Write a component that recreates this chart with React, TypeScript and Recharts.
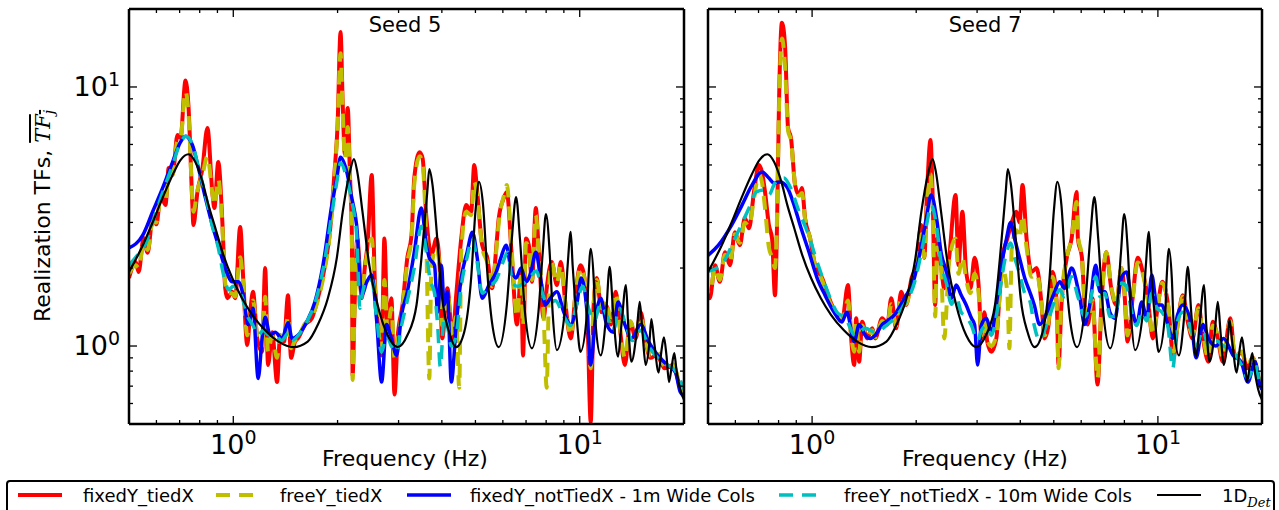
import React from 'react';
import { LineChart, Line, XAxis, YAxis } from 'recharts';

type P = [number, number];

// ---------- tick values ----------
const xTickValues = [0.5, 0.6, 0.7, 0.8, 0.9, 1, 2, 3, 4, 5, 6, 7, 8, 9, 10, 20];
const yTickValues = [0.5, 0.6, 0.7, 0.8, 0.9, 1, 2, 3, 4, 5, 6, 7, 8, 9, 10, 20];
const freqDomain: [number, number] = [0.5, 20];
const tfDomain: [number, number] = [0.5, 20];
const panelTitles = ['Seed 5', 'Seed 7'];
const xAxisLabel = 'Frequency (Hz)';
const seriesNames = ['fixedY_tiedX', 'freeY_tiedX', 'fixedY_notTiedX - 1m Wide Cols', 'freeY_notTiedX - 10m Wide Cols', '1D'];

// ---------- Seed 5 ----------
const fixedTiedS5: P[] = [[0.50,1.83],[0.523,2.11],[0.533,1.93],[0.551,2.61],[0.566,2.29],[0.585,3.12],[0.60,2.95],[0.617,3.83],[0.637,3.5],[0.651,4.87],[0.668,4.57],[0.690,6.53],[0.704,6.35],[0.728,10.6],[0.742,8.52],[0.762,3.5],[0.767,2.93],[0.788,3.93],[0.815,4.87],[0.842,6.95],[0.870,3.93],[0.882,3.41],[0.905,5.13],[0.930,3.01],[0.948,1.67],[0.961,1.53],[0.993,1.62],[1.013,1.53],[1.047,2.88],[1.068,1.83],[1.097,1.01],[1.119,1.35],[1.14,1.62],[1.172,1.07],[1.211,0.95],[1.236,2.0],[1.26,0.845],[1.295,1.13],[1.338,0.726],[1.365,1.10],[1.401,1.04],[1.439,1.57],[1.468,0.9],[1.507,1.04],[1.537,1.07],[1.61,1.21],[1.686,1.28],[1.755,1.53],[1.84,2.05],[1.90,2.75],[1.96,4.7],[2.0,7.1],[2.04,16.3],[2.07,8.5],[2.10,5.5],[2.14,8.3],[2.17,4.7],[2.20,2.6],[2.21,0.77],[2.24,1.44],[2.28,2.6],[2.35,1.53],[2.40,2.05],[2.44,2.45],[2.51,4.57],[2.56,1.83],[2.61,1.24],[2.68,0.92],[2.73,2.6],[2.79,1.13],[2.86,1.53],[2.92,0.65],[2.98,1.07],[3.08,1.44],[3.18,2.19],[3.27,2.68],[3.33,4.45],[3.45,5.6],[3.52,5.3],[3.61,3.12],[3.73,2.25],[3.86,2.6],[3.94,2.05],[4.01,1.07],[4.15,1.67],[4.29,1.07],[4.40,1.57],[4.55,2.6],[4.70,3.5],[4.86,3.3],[4.96,5.0],[5.06,3.93],[5.23,2.45],[5.41,2.19],[5.58,1.67],[5.77,2.6],[5.84,3.12],[6.04,3.73],[6.16,3.93],[6.37,2.19],[6.59,1.21],[6.77,1.93],[6.86,0.92],[7.0,2.6],[7.13,2.45],[7.28,1.77],[7.47,3.41],[7.6,2.45],[7.87,1.28],[8.03,1.67],[8.3,2.11],[8.59,1.72],[8.82,2.11],[9.1,1.44],[9.42,1.07],[9.74,1.62],[10.05,2.05],[10.25,1.93],[10.5,1.44],[10.76,0.51],[10.97,1.44],[11.2,1.83],[11.56,1.35],[11.9,1.44],[12.3,1.21],[12.7,1.62],[13.1,1.13],[13.5,0.845],[14.0,1.24],[14.5,1.07],[15.0,1.35],[15.5,1.04],[16.0,0.9],[16.7,0.92],[17.6,0.82],[18.6,0.845],[19.5,0.69],[20,0.65]];

const freeTiedS5: P[] = [[0.50,1.9],[0.523,2.05],[0.533,2.0],[0.551,2.5],[0.566,2.35],[0.585,3.0],[0.60,3.0],[0.617,3.7],[0.637,3.6],[0.651,4.6],[0.668,4.6],[0.690,6.2],[0.704,6.3],[0.728,9.6],[0.742,8.0],[0.762,3.7],[0.767,3.3],[0.788,4.0],[0.815,4.6],[0.842,5.4],[0.870,3.9],[0.882,3.5],[0.905,4.4],[0.930,2.9],[0.948,1.75],[0.961,1.6],[0.993,1.6],[1.013,1.55],[1.047,2.2],[1.068,1.75],[1.097,1.1],[1.119,1.3],[1.14,1.5],[1.172,1.1],[1.211,1.0],[1.236,1.55],[1.26,0.95],[1.295,1.1],[1.338,0.9],[1.365,1.1],[1.401,1.05],[1.439,1.3],[1.468,0.98],[1.507,1.05],[1.537,1.08],[1.61,1.22],[1.686,1.3],[1.755,1.5],[1.84,2.0],[1.90,2.7],[1.96,4.5],[2.0,7.0],[2.04,13.5],[2.07,8.0],[2.10,5.3],[2.14,7.0],[2.17,4.5],[2.20,2.5],[2.21,0.74],[2.24,1.4],[2.28,2.5],[2.35,1.55],[2.40,2.0],[2.44,2.3],[2.51,2.6],[2.56,1.7],[2.61,1.25],[2.68,0.95],[2.73,1.8],[2.79,1.15],[2.86,1.4],[2.92,0.9],[2.98,1.05],[3.08,1.4],[3.18,2.1],[3.27,2.6],[3.33,4.2],[3.45,5.4],[3.52,5.0],[3.61,2.4],[3.68,0.75],[3.73,2.0],[3.86,2.4],[3.94,2.0],[4.01,1.2],[4.15,1.6],[4.29,1.1],[4.40,1.3],[4.49,0.69],[4.55,2.3],[4.70,3.3],[4.86,3.2],[4.96,4.3],[5.06,3.8],[5.23,2.4],[5.41,2.1],[5.58,1.7],[5.77,2.5],[5.84,3.0],[6.04,3.8],[6.16,4.18],[6.37,2.3],[6.59,1.3],[6.77,1.9],[6.86,1.2],[7.0,2.5],[7.13,2.4],[7.28,1.8],[7.47,3.2],[7.6,2.4],[7.87,1.3],[8.03,0.69],[8.15,1.6],[8.3,2.1],[8.59,1.75],[8.82,2.05],[9.1,1.45],[9.42,1.1],[9.74,1.6],[10.05,2.0],[10.25,1.9],[10.5,1.45],[10.76,0.82],[10.97,1.45],[11.2,1.8],[11.56,1.4],[11.9,1.5],[12.3,1.25],[12.7,1.6],[13.1,1.15],[13.5,0.9],[14.0,1.25],[14.5,1.1],[15.0,1.3],[15.5,1.05],[16.0,0.92],[16.7,0.95],[17.6,0.84],[18.6,0.85],[19.5,0.7],[20,0.66]];

const fixedNotTiedS5: P[] = [[0.50,2.39],[0.548,2.68],[0.585,3.3],[0.625,4.07],[0.668,5.13],[0.704,6.13],[0.728,6.45],[0.762,5.97],[0.793,4.87],[0.831,3.73],[0.870,2.93],[0.905,2.45],[0.948,2.0],[0.993,1.77],[1.033,1.77],[1.068,1.57],[1.104,1.21],[1.14,1.4],[1.18,0.75],[1.211,1.07],[1.236,1.29],[1.277,1.1],[1.32,1.13],[1.383,1.07],[1.439,1.23],[1.478,1.07],[1.537,1.1],[1.63,1.24],[1.72,1.48],[1.815,2.05],[1.925,3.5],[1.99,4.45],[2.04,5.35],[2.126,4.7],[2.198,3.73],[2.27,2.93],[2.35,1.57],[2.43,1.77],[2.51,1.88],[2.59,1.28],[2.68,0.726],[2.77,1.21],[2.86,1.07],[2.96,0.92],[3.06,1.32],[3.18,1.62],[3.33,2.3],[3.49,3.41],[3.61,2.45],[3.68,2.19],[3.81,2.05],[3.89,1.35],[3.99,2.05],[4.06,1.44],[4.15,1.62],[4.26,0.726],[4.40,1.21],[4.55,1.83],[4.73,2.3],[4.90,2.75],[5.06,2.19],[5.23,1.53],[5.47,1.72],[5.74,1.93],[5.92,2.19],[6.13,2.45],[6.33,2.0],[6.55,1.83],[6.77,2.0],[7.0,1.77],[7.23,1.93],[7.47,2.3],[7.71,1.83],[7.95,1.44],[8.23,1.53],[8.59,1.62],[9.0,1.35],[9.42,1.21],[9.83,1.48],[10.1,1.83],[10.5,1.35],[10.76,0.845],[11.1,1.28],[11.5,1.53],[11.9,1.24],[12.5,1.13],[12.9,1.48],[13.5,1.21],[14.1,1.07],[15.0,1.21],[15.8,1.04],[16.8,0.92],[17.9,0.845],[18.9,0.79],[19.5,0.665],[20,0.64]];

const freeNotTiedS5: P[] = [[0.50,2.05],[0.53,2.25],[0.56,2.5],[0.585,3.0],[0.625,3.9],[0.668,5.0],[0.704,6.1],[0.73,6.45],[0.762,6.0],[0.793,4.9],[0.836,3.7],[0.870,2.9],[0.905,2.4],[0.94,1.85],[0.97,1.65],[1.0,1.7],[1.05,1.6],[1.10,1.3],[1.14,1.2],[1.18,1.1],[1.22,1.15],[1.27,1.1],[1.32,1.1],[1.38,1.05],[1.44,1.12],[1.48,1.05],[1.54,1.1],[1.63,1.24],[1.73,1.5],[1.82,2.0],[1.93,3.3],[1.99,4.3],[2.04,5.1],[2.12,4.5],[2.20,3.6],[2.27,2.7],[2.32,1.4],[2.36,1.6],[2.43,1.8],[2.51,1.8],[2.59,1.3],[2.68,0.95],[2.77,1.1],[2.86,1.0],[2.96,0.95],[3.06,1.2],[3.18,1.5],[3.33,2.0],[3.49,2.9],[3.61,2.3],[3.70,1.8],[3.81,1.6],[3.89,1.2],[3.96,0.83],[4.06,1.3],[4.15,1.2],[4.26,1.0],[4.40,1.1],[4.55,1.7],[4.73,2.2],[4.90,2.6],[5.06,2.1],[5.23,1.6],[5.49,1.7],[5.74,1.8],[6.0,2.1],[6.2,2.3],[6.4,1.75],[6.6,1.7],[6.9,1.75],[7.2,1.85],[7.5,1.95],[7.8,1.6],[8.1,1.45],[8.5,1.5],[9.0,1.3],[9.4,1.2],[9.8,1.45],[10.2,1.7],[10.6,1.4],[11.0,1.25],[11.5,1.45],[12.0,1.3],[12.5,1.15],[13.0,1.4],[13.6,1.2],[14.2,1.05],[15.0,1.15],[15.8,1.0],[16.8,0.9],[17.8,0.85],[18.9,0.8],[20,0.68]];

// ---------- 1D deterministic (same in both panels) ----------
const oneDDet: P[] = [[0.50,1.93],[0.548,2.45],[0.585,3.0],[0.625,3.73],[0.668,4.57],[0.704,5.22],[0.742,5.5],[0.777,5.13],[0.815,4.3],[0.848,3.5],[0.888,2.85],[0.936,2.25],[0.993,1.83],[1.06,1.53],[1.134,1.32],[1.236,1.15],[1.35,1.04],[1.49,0.99],[1.64,1.04],[1.755,1.21],[1.875,1.53],[1.99,2.19],[2.07,3.3],[2.17,4.7],[2.23,5.27],[2.28,4.7],[2.36,3.3],[2.47,2.05],[2.61,1.44],[2.79,1.1],[2.98,0.99],[3.18,1.1],[3.38,1.44],[3.52,2.45],[3.63,3.93],[3.68,4.82],[3.76,4.18],[3.88,2.6],[4.01,1.53],[4.2,1.13],[4.40,0.99],[4.64,1.13],[4.86,1.83],[5.0,3.3],[5.12,4.3],[5.26,3.5],[5.41,1.93],[5.58,1.24],[5.84,0.99],[6.16,1.44],[6.37,2.6],[6.55,3.76],[6.72,2.6],[6.95,1.35],[7.28,0.98],[7.6,1.35],[7.82,2.3],[7.99,3.23],[8.19,2.3],[8.36,1.32],[8.59,0.965],[9.05,1.35],[9.23,2.05],[9.42,2.76],[9.54,2.05],[9.8,1.28],[10.05,0.95],[10.5,1.35],[10.6,1.83],[10.76,2.37],[10.97,1.83],[11.1,1.24],[11.5,0.92],[11.9,1.28],[12.2,2.02],[12.5,1.32],[12.9,0.91],[13.2,1.21],[13.6,1.72],[13.8,1.21],[14.1,0.87],[14.6,1.13],[14.9,1.48],[15.2,1.10],[15.5,0.845],[15.9,1.04],[16.1,1.27],[16.4,1.04],[16.9,0.79],[17.2,0.95],[17.5,1.08],[17.8,0.92],[18.1,0.726],[18.4,0.82],[18.75,0.94],[19.0,0.82],[19.5,0.68],[20,0.62]];

// ---------- Seed 7 ----------
const fixedTiedS7: P[] = [[0.49,1.83],[0.506,1.53],[0.524,2.05],[0.541,1.77],[0.560,2.3],[0.579,2.05],[0.598,2.75],[0.618,2.45],[0.639,3.12],[0.657,2.85],[0.679,3.93],[0.702,5.0],[0.716,4.7],[0.731,3.93],[0.750,2.93],[0.766,2.6],[0.781,1.57],[0.792,3.0],[0.802,8.5],[0.818,17.7],[0.835,14.5],[0.852,6.95],[0.869,6.35],[0.893,4.18],[0.917,3.83],[0.935,4.07],[0.954,3.12],[0.987,2.6],[1.02,2.05],[1.069,1.83],[1.12,1.53],[1.166,1.35],[1.22,1.24],[1.27,1.72],[1.297,1.07],[1.324,0.845],[1.341,1.28],[1.368,0.87],[1.396,1.24],[1.443,1.07],[1.493,1.17],[1.523,1.07],[1.594,1.28],[1.65,1.21],[1.694,1.53],[1.75,1.17],[1.81,1.62],[1.87,1.44],[1.94,1.83],[2.0,2.05],[2.07,2.93],[2.11,2.19],[2.15,3.93],[2.20,6.24],[2.23,3.93],[2.27,1.44],[2.30,2.6],[2.36,2.05],[2.41,1.67],[2.49,2.19],[2.60,3.83],[2.65,2.05],[2.72,3.3],[2.79,1.93],[2.87,1.67],[2.95,2.19],[3.03,1.72],[3.09,1.07],[3.15,1.35],[3.21,1.04],[3.30,0.95],[3.41,1.07],[3.48,1.53],[3.55,2.19],[3.67,2.6],[3.78,3.0],[3.9,3.3],[3.98,3.0],[4.06,4.18],[4.17,2.6],[4.31,1.93],[4.46,2.0],[4.61,1.44],[4.70,1.07],[4.83,1.21],[4.96,1.93],[5.10,1.44],[5.16,0.845],[5.26,1.44],[5.45,2.19],[5.63,2.6],[5.82,3.93],[5.87,2.6],[6.03,2.19],[6.14,1.44],[6.26,1.21],[6.47,1.53],[6.69,0.71],[6.88,1.53],[7.09,2.3],[7.33,1.67],[7.58,1.44],[7.84,2.0],[8.0,1.62],[8.17,1.04],[8.45,1.53],[8.74,2.19],[9.04,1.93],[9.35,1.53],[9.67,1.07],[10.0,1.44],[10.3,1.77],[10.7,1.44],[11.1,0.9],[11.4,1.21],[11.8,1.57],[12.2,1.24],[12.6,1.07],[13.1,1.44],[13.5,1.07],[14.0,0.87],[14.4,1.24],[14.9,1.07],[15.4,0.87],[16.2,1.28],[16.7,0.9],[17.5,0.95],[18.1,0.82],[18.8,0.9],[19.7,0.726],[20,0.7]];

const freeTiedS7: P[] = [[0.49,1.8],[0.506,1.6],[0.524,2.0],[0.541,1.8],[0.560,2.25],[0.579,2.1],[0.598,2.7],[0.618,2.5],[0.639,3.0],[0.657,2.9],[0.679,3.7],[0.702,4.6],[0.716,4.3],[0.731,3.4],[0.750,2.4],[0.766,2.2],[0.781,2.0],[0.792,3.2],[0.802,8.0],[0.818,15.4],[0.835,12.0],[0.852,6.8],[0.869,6.2],[0.893,4.2],[0.917,3.8],[0.935,3.9],[0.954,3.1],[0.987,2.6],[1.02,2.05],[1.069,1.8],[1.12,1.5],[1.166,1.35],[1.22,1.25],[1.27,1.5],[1.297,1.1],[1.324,0.95],[1.341,1.25],[1.368,0.95],[1.396,1.2],[1.443,1.08],[1.493,1.15],[1.523,1.08],[1.594,1.25],[1.65,1.2],[1.694,1.45],[1.75,1.2],[1.81,1.55],[1.87,1.45],[1.94,1.75],[2.0,2.0],[2.07,2.7],[2.11,2.2],[2.15,3.5],[2.20,4.6],[2.23,3.5],[2.27,1.3],[2.30,2.4],[2.36,2.0],[2.41,1.07],[2.49,2.1],[2.60,2.6],[2.65,1.9],[2.72,2.2],[2.79,1.8],[2.87,1.6],[2.95,1.9],[3.03,1.6],[3.09,1.1],[3.15,1.3],[3.21,1.05],[3.30,1.0],[3.41,1.1],[3.48,1.5],[3.55,2.0],[3.67,1.6],[3.72,0.98],[3.78,2.4],[3.9,2.8],[3.98,2.6],[4.06,3.2],[4.17,2.4],[4.31,1.85],[4.46,1.9],[4.61,1.45],[4.70,1.1],[4.83,1.25],[4.96,1.85],[5.10,1.4],[5.16,0.82],[5.26,1.5],[5.45,2.2],[5.63,2.6],[5.82,3.6],[5.87,2.7],[6.03,2.2],[6.14,1.5],[6.26,1.25],[6.47,1.5],[6.69,0.75],[6.88,1.5],[7.09,2.3],[7.33,1.7],[7.58,1.45],[7.84,2.0],[8.0,1.65],[8.17,1.1],[8.45,1.5],[8.74,2.1],[9.04,1.9],[9.35,1.5],[9.67,1.1],[10.0,1.45],[10.3,1.75],[10.7,1.45],[11.1,0.95],[11.4,1.2],[11.8,1.55],[12.2,1.25],[12.6,1.1],[13.1,1.4],[13.5,1.1],[14.0,0.9],[14.4,1.2],[14.9,1.1],[15.4,0.9],[16.2,1.25],[16.7,0.92],[17.5,0.95],[18.1,0.84],[18.8,0.9],[19.7,0.74],[20,0.72]];

const fixedNotTiedS7: P[] = [[0.49,2.19],[0.536,2.45],[0.585,2.93],[0.627,3.5],[0.670,4.18],[0.716,4.7],[0.750,4.45],[0.776,4.26],[0.808,4.3],[0.846,4.11],[0.887,3.5],[0.923,2.93],[0.98,2.3],[1.034,1.83],[1.09,1.57],[1.158,1.35],[1.22,1.24],[1.26,1.35],[1.324,1.04],[1.368,1.21],[1.425,1.1],[1.473,1.07],[1.523,1.1],[1.594,1.21],[1.65,1.25],[1.73,1.32],[1.85,1.53],[1.976,1.83],[2.07,2.45],[2.14,3.12],[2.21,3.83],[2.29,3.12],[2.36,2.3],[2.445,1.93],[2.53,1.53],[2.61,1.72],[2.70,1.57],[2.79,1.44],[2.89,1.28],[2.95,1.21],[3.01,0.845],[3.09,1.21],[3.19,1.28],[3.30,1.13],[3.41,1.44],[3.53,2.05],[3.65,2.6],[3.75,3.0],[3.85,2.6],[3.98,2.19],[4.12,1.83],[4.26,1.62],[4.39,1.44],[4.55,1.21],[4.70,1.28],[4.86,1.44],[5.03,1.62],[5.2,1.77],[5.37,1.67],[5.63,2.0],[5.87,1.67],[5.95,1.53],[6.14,1.21],[6.35,1.44],[6.61,2.05],[6.8,1.62],[7.03,1.62],[7.26,1.35],[7.51,1.28],[7.84,1.83],[8.12,1.93],[8.4,1.44],[8.68,1.21],[8.98,1.48],[9.29,1.28],[9.6,1.88],[9.93,1.44],[10.27,1.44],[10.68,1.21],[11.04,1.07],[11.4,1.32],[11.8,1.44],[12.5,1.21],[12.9,0.9],[13.5,1.21],[14.0,1.07],[14.7,1.0],[15.5,1.07],[16.5,0.92],[17.4,0.87],[18.2,0.726],[19.1,0.87],[19.7,0.71],[20,0.68]];

const freeNotTiedS7: P[] = [[0.49,1.93],[0.545,2.05],[0.598,2.6],[0.657,3.41],[0.69,3.93],[0.726,4.0],[0.750,3.83],[0.781,4.26],[0.829,4.45],[0.864,4.11],[0.917,3.3],[0.97,2.75],[1.034,2.11],[1.10,1.67],[1.18,1.35],[1.25,1.28],[1.33,1.1],[1.425,1.17],[1.523,1.13],[1.65,1.21],[1.75,1.3],[1.85,1.45],[1.976,1.75],[2.07,2.3],[2.14,2.9],[2.21,3.5],[2.29,2.9],[2.36,2.1],[2.445,1.75],[2.53,1.45],[2.61,1.55],[2.70,1.35],[2.79,1.3],[2.89,1.2],[3.01,1.05],[3.09,1.15],[3.19,1.2],[3.30,1.1],[3.41,1.3],[3.53,1.8],[3.65,2.3],[3.75,2.5],[3.85,2.2],[3.98,1.9],[4.12,1.6],[4.26,1.5],[4.39,1.2],[4.55,1.05],[4.70,1.15],[4.86,1.3],[5.03,1.5],[5.2,1.65],[5.37,1.55],[5.63,1.85],[5.87,1.55],[6.14,1.3],[6.35,1.45],[6.61,1.85],[6.8,1.55],[7.03,1.6],[7.26,1.3],[7.51,1.3],[7.84,1.75],[8.12,1.7],[8.4,1.35],[8.68,1.2],[8.98,1.35],[9.29,1.25],[9.6,1.6],[9.93,1.4],[10.27,1.35],[10.68,1.2],[11.04,0.82],[11.4,1.25],[11.8,1.35],[12.5,1.15],[12.9,1.0],[13.5,1.15],[14.0,1.0],[14.7,1.05],[15.5,1.0],[16.5,0.95],[17.4,0.85],[18.2,0.75],[19.1,0.85],[19.7,0.72],[20,0.7]];

// ---------- styling ----------
const FONT = '"DejaVu Sans", sans-serif';
const STYLES = [
  { color: '#ff0000', width: 4, dash: undefined as string | undefined },
  { color: '#bfbf00', width: 4, dash: '14 9' },
  { color: '#0000ff', width: 3.5, dash: undefined },
  { color: '#00bfbf', width: 3.5, dash: '14 9' },
  { color: '#000000', width: 2.2, dash: undefined },
];

const toPts = (a: P[]) => a.map(([f, v]) => ({ f, v }));

const MAJOR = 8;
const MINOR = 4;

const supOf = (v: number) => (v === 1 ? '0' : v === 10 ? '1' : null);

function makeTick(side: 'bottom' | 'top' | 'left' | 'right', showLabel: boolean) {
  return (props: any) => {
    const { x, y, payload } = props;
    const v = payload.value;
    const sup = supOf(v);
    const len = sup ? MAJOR : MINOR;
    let x2 = x, y2 = y;
    if (side === 'bottom') y2 = y - len;
    if (side === 'top') y2 = y + len;
    if (side === 'left') x2 = x + len;
    if (side === 'right') x2 = x - len;
    let label: any = null;
    if (showLabel && sup) {
      if (side === 'bottom') {
        label = (
          <text x={x} y={y + 30} textAnchor="middle" fontFamily={FONT} fontSize={27} fill="#000">
            10<tspan dy={-10} fontSize={19}>{sup}</tspan>
          </text>
        );
      } else if (side === 'left') {
        label = (
          <text x={x - 9} y={y + 9} textAnchor="end" fontFamily={FONT} fontSize={27} fill="#000">
            10<tspan dy={-10} fontSize={19}>{sup}</tspan>
          </text>
        );
      }
    }
    return (
      <g>
        <line x1={x} y1={y} x2={x2} y2={y2} stroke="#000" strokeWidth={1.3} />
        {label}
      </g>
    );
  };
}

type PanelProps = {
  left: number;
  width: number;
  margin: { top: number; right: number; bottom: number; left: number };
  series: P[][];
  showYLabels: boolean;
};

function Panel({ left, width, margin, series, showYLabels }: PanelProps) {
  const axisLine = { stroke: '#000', strokeWidth: 2.5 };
  return (
    <div style={{ position: 'absolute', left, top: 0 }}>
      <LineChart width={width} height={480} margin={margin}>
        <XAxis xAxisId="b" orientation="bottom" type="number" dataKey="f" scale="log" domain={freqDomain}
          allowDataOverflow ticks={xTickValues} interval={0} height={1} tickSize={0} tickMargin={0}
          tickLine={false} axisLine={axisLine} tick={makeTick('bottom', true)} />
        <XAxis xAxisId="t" orientation="top" type="number" dataKey="f" scale="log" domain={freqDomain}
          allowDataOverflow ticks={xTickValues} interval={0} height={1} tickSize={0} tickMargin={0}
          tickLine={false} axisLine={axisLine} tick={makeTick('top', false)} />
        <YAxis yAxisId="l" orientation="left" type="number" dataKey="v" scale="log" domain={tfDomain}
          allowDataOverflow ticks={yTickValues} interval={0} width={1} tickSize={0} tickMargin={0}
          tickLine={false} axisLine={axisLine} tick={makeTick('left', showYLabels)} />
        <YAxis yAxisId="r" orientation="right" type="number" dataKey="v" scale="log" domain={tfDomain}
          allowDataOverflow ticks={yTickValues} interval={0} width={1} tickSize={0} tickMargin={0}
          tickLine={false} axisLine={axisLine} tick={makeTick('right', false)} />
        {series.map((s, i) => (
          <Line key={i} xAxisId="b" yAxisId="l" data={toPts(s)} dataKey="v" type="monotone"
            stroke={STYLES[i].color} strokeWidth={STYLES[i].width} strokeDasharray={STYLES[i].dash}
            dot={false} activeDot={false} isAnimationActive={false} />
        ))}
      </LineChart>
    </div>
  );
}

function Legend() {
  const items = [
    { lx: 18, tx: 83 },
    { lx: 216, tx: 280 },
    { lx: 407, tx: 470 },
    { lx: 779, tx: 844 },
    { lx: 1157, tx: 1222 },
  ];
  return (
    <svg width={1279} height={40} style={{ position: 'absolute', left: 0, top: 470 }}>
      <rect x={7} y={11} width={1267} height={50} rx={3} fill="#fff" stroke="#000" strokeWidth={2} />
      {items.map((it, i) => (
        <g key={i}>
          <line x1={it.lx} y1={25} x2={it.lx + 44} y2={25} stroke={STYLES[i].color}
            strokeWidth={STYLES[i].width} strokeDasharray={STYLES[i].dash} />
          <text x={it.tx} y={31.5} fontFamily={FONT} fontSize={18} fill="#000">
            {seriesNames[i]}
            {i === 4 ? (
              <tspan dy={5} fontSize={13} fontFamily='"DejaVu Serif", serif' fontStyle="italic">Det</tspan>
            ) : null}
          </text>
        </g>
      ))}
    </svg>
  );
}

export default function App() {
  return (
    <div style={{ position: 'absolute', left: 0, top: 0, width: 1279, height: 510, overflow: 'hidden', background: '#fff' }}>
      <Panel left={0} width={700} margin={{ top: 8, right: 15, bottom: 55, left: 128 }}
        series={[fixedTiedS5, freeTiedS5, fixedNotTiedS5, freeNotTiedS5, oneDDet]} showYLabels />
      <Panel left={690} width={589} margin={{ top: 8, right: 16, bottom: 55, left: 17 }}
        series={[fixedTiedS7, freeTiedS7, fixedNotTiedS7, freeNotTiedS7, oneDDet]} showYLabels={false} />
      <svg width={1279} height={470} style={{ position: 'absolute', left: 0, top: 0, pointerEvents: 'none' }}>
        <text x={405} y={32} textAnchor="middle" fontFamily={FONT} fontSize={21} fill="#000">{panelTitles[0]}</text>
        <text x={985} y={32} textAnchor="middle" fontFamily={FONT} fontSize={21} fill="#000">{panelTitles[1]}</text>
        <text x={405} y={466} textAnchor="middle" fontFamily={FONT} fontSize={22} fill="#000">{xAxisLabel}</text>
        <text x={985} y={466} textAnchor="middle" fontFamily={FONT} fontSize={22} fill="#000">{xAxisLabel}</text>
      </svg>
      <div style={{ position: 'absolute', left: 46, top: 216, transform: 'translate(-50%, -50%) rotate(-90deg)', whiteSpace: 'nowrap', fontFamily: FONT, fontSize: 22, lineHeight: '26px', color: '#000' }}>
        Realization TFs,{' '}
        <span style={{ fontFamily: '"DejaVu Serif", serif', fontStyle: 'italic', textDecoration: 'overline', fontSize: 21 }}>
          TF<sub style={{ fontSize: 14, verticalAlign: '-4px' }}>j</sub>
        </span>
      </div>
      <Legend />
    </div>
  );
}
